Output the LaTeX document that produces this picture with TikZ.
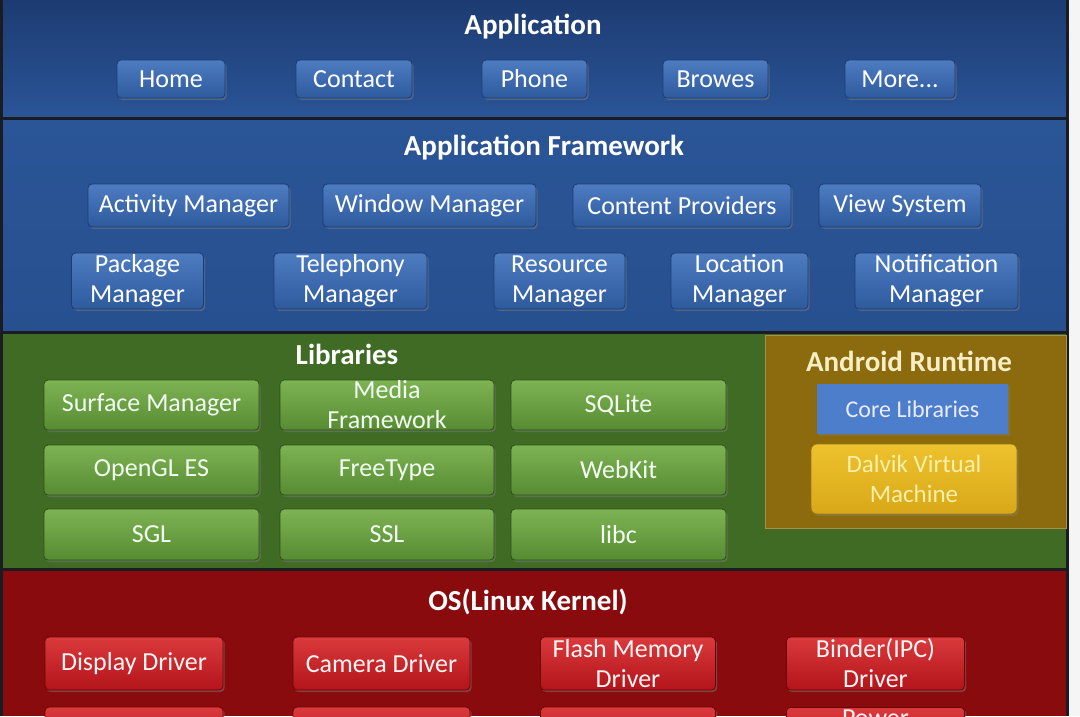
\documentclass[tikz,border=0pt]{standalone}
\usepackage{fontspec}
\setmainfont{Carlito}
\usetikzlibrary{shadows}
\definecolor{appTop}{HTML}{1D3B72}
\definecolor{appBot}{HTML}{2A5597}
\definecolor{fwTop}{HTML}{2A5596}
\definecolor{fwBot}{HTML}{27508F}
\definecolor{sepc}{HTML}{1A1C24}
\definecolor{libc}{HTML}{3F6B24}
\definecolor{osc}{HTML}{8A0B0D}
\definecolor{artc}{HTML}{8C6A0E}
\definecolor{bBlueT}{HTML}{4E7CC0}
\definecolor{bBlueB}{HTML}{2E5A9E}
\definecolor{bBlueD}{HTML}{1C3C74}
\definecolor{bGreenT}{HTML}{7EB354}
\definecolor{bGreenB}{HTML}{578B32}
\definecolor{bGreenD}{HTML}{2E5018}
\definecolor{bRedT}{HTML}{DA3A3C}
\definecolor{bRedB}{HTML}{B3141A}
\definecolor{bRedD}{HTML}{6A0608}
\definecolor{coreC}{HTML}{4C7ECB}
\definecolor{dalT}{HTML}{EEC12E}
\definecolor{dalB}{HTML}{D8A818}
\definecolor{creamT}{HTML}{F6EEC4}
\definecolor{yellowT}{HTML}{F6F0A8}
\tikzset{
  title/.style={font=\fontsize{29}{34}\selectfont\bfseries, text=white, inner sep=0pt},
  btn/.style={rounded corners=4pt, inner sep=0pt, align=center,
    font=\fontsize{26}{30}\selectfont, text=white,
    drop shadow={shadow xshift=1.5pt, shadow yshift=-2pt, opacity=0.45}},
  bluebtn/.style={btn, top color=bBlueT, bottom color=bBlueB, draw=bBlueD, line width=0.8pt},
  greenbtn/.style={btn, top color=bGreenT, bottom color=bGreenB, draw=bGreenD, line width=0.8pt, text=green!5!white},
  redbtn/.style={btn, top color=bRedT, bottom color=bRedB, draw=bRedD, line width=0.8pt, text=red!4!white},
}
\begin{document}
\begin{tikzpicture}[x=1pt,y=-1pt]
\useasboundingbox (0,0) rectangle (1080,716);
\fill[gray!8] (0,0) rectangle (1080,716);
% panels
\shade[top color=appTop, bottom color=appBot] (0,0) rectangle (1067,118);
\shade[top color=fwTop, bottom color=fwBot] (0,120) rectangle (1067,332);
\fill[libc] (0,334) rectangle (1067,569);
\fill[osc] (0,571) rectangle (1067,716);
\fill[sepc] (0,117) rectangle (1067,120);
\fill[sepc] (0,331) rectangle (1067,334);
\fill[sepc] (0,568) rectangle (1067,571);
\fill[sepc] (0,0) rectangle (2.5,716);
\fill[sepc] (1066,0) rectangle (1069,716);
\fill[artc] (765,335) rectangle (1066,528);
\draw[artc!75!white, line width=0.6pt] (765,335) rectangle (1066,528);

% Application
\node[title] (tapp) at (533,27) {Application};
\node[bluebtn, minimum width=108pt, minimum height=38pt] (home) at (171,79) {Home};
\node[bluebtn, minimum width=116pt, minimum height=38pt] (contact) at (354,79) {Contact};
\node[bluebtn, minimum width=105pt, minimum height=38pt] (phone) at (534.5,79) {Phone};
\node[bluebtn, minimum width=105pt, minimum height=38pt] (browes) at (715.5,79) {Browes};
\node[bluebtn, minimum width=110pt, minimum height=38pt] (more) at (900,79) {More...};

% Application Framework
\node[title] (tfw) at (544,148) {Application Framework};
\node[bluebtn, minimum width=201pt, minimum height=43pt] (act) at (188.5,205.5) {Activity Manager};
\node[bluebtn, minimum width=213pt, minimum height=43pt] (win) at (429.5,205.5) {Window Manager};
\node[bluebtn, minimum width=218pt, minimum height=43pt] (cont) at (682,205.5) {Content Providers};
\node[bluebtn, minimum width=162pt, minimum height=43pt] (view) at (900,205.5) {View System};
\node[bluebtn, minimum width=132pt, minimum height=56pt] (pkg) at (137.5,281) {Package\\Manager};
\node[bluebtn, minimum width=153pt, minimum height=56pt] (tel) at (350.5,281) {Telephony\\Manager};
\node[bluebtn, minimum width=131pt, minimum height=56pt] (res) at (559.5,281) {Resource\\Manager};
\node[bluebtn, minimum width=137pt, minimum height=56pt] (loc) at (739.5,281) {Location\\Manager};
\node[bluebtn, minimum width=163pt, minimum height=56pt] (noti) at (936.5,281) {Notification\\Manager};

% Libraries
\node[title] (tlib) at (347,354) {Libraries};
\node[greenbtn, minimum width=215pt, minimum height=50pt] (surf) at (151.5,405) {Surface Manager};
\node[greenbtn, minimum width=214pt, minimum height=50pt] (media) at (387,405) {Media\\Framework};
\node[greenbtn, minimum width=215pt, minimum height=50pt] (sqlite) at (618.5,405) {SQLite};
\node[greenbtn, minimum width=215pt, minimum height=50pt] (opengl) at (151.5,470) {OpenGL ES};
\node[greenbtn, minimum width=214pt, minimum height=50pt] (freetype) at (387,470) {FreeType};
\node[greenbtn, minimum width=215pt, minimum height=50pt] (webkit) at (618.5,470) {WebKit};
\node[greenbtn, minimum width=215pt, minimum height=51pt] (sgl) at (151.5,534.5) {SGL};
\node[greenbtn, minimum width=214pt, minimum height=51pt] (ssl) at (387,534.5) {SSL};
\node[greenbtn, minimum width=215pt, minimum height=51pt] (libcn) at (618.5,534.5) {libc};

% Android Runtime
\node[title, text=creamT] (tart) at (909,361) {Android Runtime};
\node[fill=coreC, inner sep=0pt, minimum width=191pt, minimum height=50pt,
  font=\fontsize{24}{28}\selectfont, text=blue!8!white,
  drop shadow={shadow xshift=1.5pt, shadow yshift=-2pt, opacity=0.35}] (core) at (912.5,409) {Core Libraries};
\node[btn, top color=dalT, bottom color=dalB, draw=dalB!70!black, line width=0.8pt,
  rounded corners=6pt, minimum width=206pt, minimum height=70pt, text=yellowT,
  font=\fontsize{25}{30}\selectfont] (dalvik) at (914,479) {Dalvik Virtual\\Machine};

% OS
\node[title] (tos) at (528,602) {OS(Linux Kernel)};
\node[redbtn, minimum width=178pt, minimum height=53pt] (disp) at (134,663.5) {Display Driver};
\node[redbtn, minimum width=177pt, minimum height=53pt] (cam) at (381.5,663.5) {Camera Driver};
\node[redbtn, minimum width=175pt, minimum height=53pt] (flash) at (628,663.5) {Flash Memory\\Driver};
\node[redbtn, minimum width=178pt, minimum height=53pt] (binder) at (875.5,663.5) {Binder(IPC)\\Driver};
\begin{scope}
\clip (0,571) rectangle (1067,716);
\node[redbtn, minimum width=178pt, minimum height=53pt] (r2a) at (134,733.5) {};
\node[redbtn, minimum width=177pt, minimum height=53pt] (r2b) at (381.5,733.5) {};
\node[redbtn, minimum width=175pt, minimum height=53pt] (r2c) at (628,733.5) {};
\node[redbtn, minimum width=178pt, minimum height=53pt, anchor=north] (r2d) at (875.5,707) {};
\node[font=\fontsize{26}{30}\selectfont, text=red!4!white, anchor=north, inner sep=0pt] (power) at (875.5,710) {Power};
\end{scope}
\end{tikzpicture}
\end{document}
